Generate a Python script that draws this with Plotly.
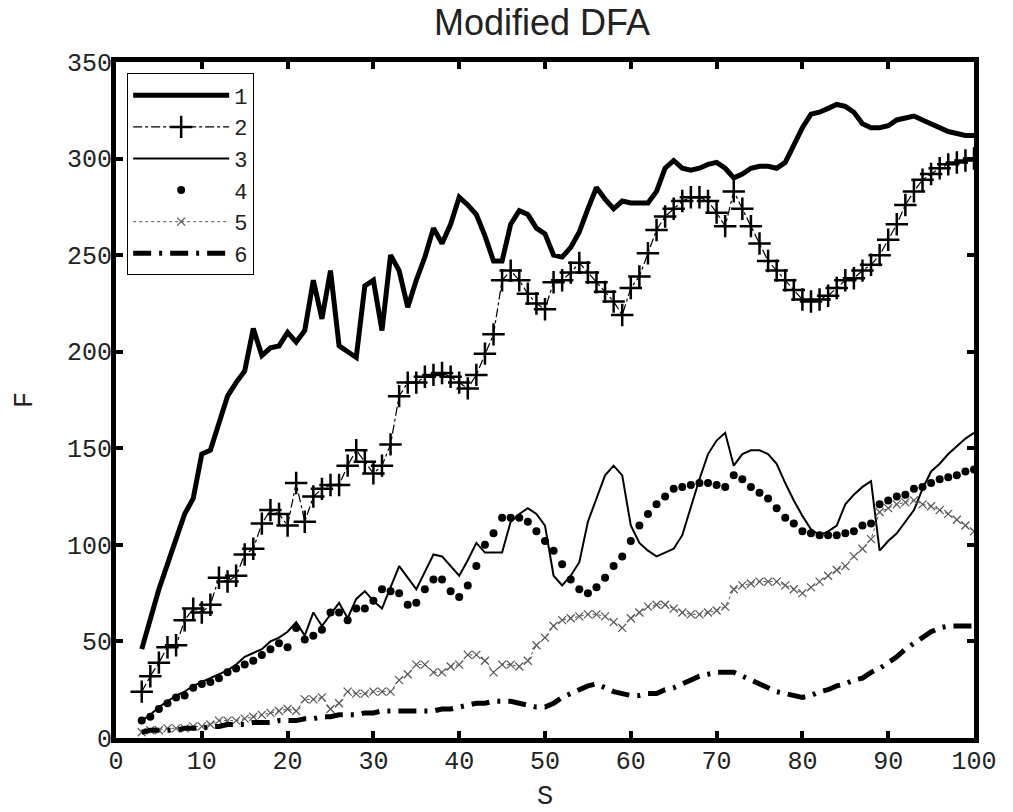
import plotly.graph_objects as go

# scale s (window size) shared by all six curves
s = list(range(3, 101))

f1 = [46, 62, 77, 90, 104, 116, 124, 147, 149, 162,
      177, 184, 190, 212, 198, 202, 203, 210, 205, 211,
      237, 217, 242, 203, 200, 197, 234, 237, 211, 250,
      242, 223, 237, 249, 264, 256, 266, 280, 276, 271,
      260, 247, 247, 266, 273, 271, 264, 261, 250, 249,
      254, 262, 274, 285, 279, 274, 278, 277, 277, 277,
      283, 295, 299, 295, 294, 295, 297, 298, 295, 290,
      292, 295, 296, 296, 295, 298, 307, 316, 323, 324,
      326, 328, 327, 324, 318, 316, 316, 317, 320, 321,
      322, 320, 318, 316, 314, 313, 312, 312]

f2 = [24, 32, 39, 47, 48, 61, 67, 65, 69, 83,
      81, 84, 95, 98, 111, 118, 116, 110, 132, 112,
      125, 129, 131, 131, 141, 149, 143, 137, 141, 152,
      177, 184, 184, 187, 188, 189, 187, 184, 181, 188,
      199, 209, 237, 242, 237, 230, 225, 222, 236, 237,
      241, 246, 241, 236, 231, 226, 219, 233, 239, 251,
      263, 270, 274, 278, 280, 280, 278, 272, 265, 283,
      274, 265, 256, 247, 242, 237, 232, 227, 226, 227,
      229, 233, 237, 238, 242, 245, 250, 258, 266, 276,
      283, 289, 292, 295, 297, 298, 299, 300]

f3 = [9, 12, 16, 19, 22, 24, 27, 29, 31, 33,
      35, 38, 42, 44, 46, 50, 52, 55, 60, 53,
      65, 58, 64, 70, 62, 72, 76, 71, 67, 78,
      89, 83, 77, 86, 95, 94, 89, 84, 92, 101,
      96, 96, 96, 112, 116, 119, 116, 110, 84, 79,
      84, 91, 112, 124, 136, 141, 136, 110, 101, 97,
      94, 96, 98, 105, 120, 134, 147, 154, 158, 141,
      147, 149, 149, 147, 142, 132, 123, 115, 108, 105,
      107, 110, 121, 126, 130, 133, 97, 102, 106, 112,
      118, 129, 138, 142, 147, 151, 155, 158]

f4 = [9, 11, 15, 18, 21, 22, 26, 28, 29, 31,
      34, 36, 38, 40, 43, 46, 49, 47, 57, 51,
      53, 56, 65, 65, 61, 67, 67, 71, 77, 76,
      75, 69, 70, 77, 82, 82, 76, 73, 79, 89,
      100, 106, 114, 114, 114, 112, 107, 102, 97, 90,
      82, 77, 75, 78, 83, 89, 94, 102, 110, 116,
      121, 125, 129, 130, 131, 132, 132, 131, 130, 136,
      134, 130, 127, 124, 119, 114, 111, 107, 106, 105,
      105, 105, 106, 107, 110, 111, 121, 123, 125, 126,
      129, 130, 132, 134, 135, 136, 138, 139]

f5 = [3, 4, 4, 5, 5, 5, 6, 6, 7, 9,
      9, 9, 10, 11, 12, 13, 14, 15, 14, 20,
      20, 21, 15, 18, 24, 23, 23, 24, 24, 24,
      30, 33, 38, 38, 34, 34, 37, 38, 43, 43,
      40, 34, 38, 38, 37, 40, 48, 52, 58, 61,
      62, 63, 64, 64, 63, 60, 57, 62, 65, 68,
      69, 69, 67, 65, 64, 64, 65, 66, 68, 77,
      79, 80, 81, 81, 81, 79, 77, 75, 78, 81,
      84, 87, 89, 94, 98, 103, 117, 119, 121, 122,
      123, 121, 120, 118, 116, 113, 110, 107]

f6 = [3, 4, 4, 4, 4, 5, 5, 5, 6, 6,
      7, 7, 7, 8, 8, 8, 9, 9, 9, 10,
      10, 11, 11, 12, 12, 12, 13, 13, 14, 14,
      14, 14, 14, 14, 14, 15, 15, 16, 17, 18,
      18, 19, 19, 19, 18, 17, 16, 16, 18, 21,
      23, 25, 27, 28, 26, 24, 23, 22, 22, 23,
      23, 25, 26, 28, 30, 32, 33, 34, 34, 34,
      32, 30, 28, 26, 24, 23, 22, 21, 22, 24,
      25, 27, 28, 30, 31, 34, 36, 39, 42, 46,
      49, 52, 55, 57, 58, 58, 58, 58]

labels = ["1", "2", "3", "4", "5", "6"]
x_ticks = list(range(0, 101, 10))
y_ticks = list(range(0, 351, 50))

MONO = "Liberation Mono, Courier New, monospace"
TXT = "#222222"

fig = go.Figure()

fig.add_trace(go.Scatter(
    x=s, y=f1, name=labels[0], mode="lines",
    line=dict(color="black", width=5)))

fig.add_trace(go.Scatter(
    x=s, y=f2, name=labels[1], mode="lines+markers",
    line=dict(color="black", width=1.2, dash="dashdot"),
    marker=dict(symbol="cross-thin", size=16, color="black",
                line=dict(color="black", width=2.5))))

fig.add_trace(go.Scatter(
    x=s, y=f3, name=labels[2], mode="lines",
    line=dict(color="black", width=2)))

fig.add_trace(go.Scatter(
    x=s, y=f4, name=labels[3], mode="markers",
    marker=dict(symbol="circle", size=8, color="black")))

fig.add_trace(go.Scatter(
    x=s, y=f5, name=labels[4], mode="lines+markers",
    line=dict(color="#555555", width=1, dash="dot"),
    marker=dict(symbol="x-thin", size=8, color="#555555",
                line=dict(color="#555555", width=1.2))))

fig.add_trace(go.Scatter(
    x=s, y=f6, name=labels[5], mode="lines",
    line=dict(color="black", width=5, dash="18px,8px,3px,8px")))

axis_common = dict(
    showline=True, linecolor="black", linewidth=5, mirror="ticks",
    ticks="inside", ticklen=7, tickwidth=4, tickcolor="black",
    showgrid=False, zeroline=False, automargin=False,
    tickfont=dict(family=MONO, size=25, color=TXT),
)

fig.update_xaxes(
    range=[0, 100], tickvals=x_ticks, ticklabelstandoff=-4,
    title=dict(text="S", font=dict(family=MONO, size=27, color=TXT),
               standoff=14),
    **axis_common)
fig.update_yaxes(
    range=[0, 350], tickvals=y_ticks, ticklabelstandoff=-6,
    title=dict(text="F", font=dict(family=MONO, size=27, color=TXT),
               standoff=28),
    **axis_common)

fig.update_layout(
    width=1013, height=812,
    margin=dict(l=116, r=39, t=62, b=74),
    paper_bgcolor="white", plot_bgcolor="white",
    title=dict(text="Modified DFA", x=0.535, xanchor="center",
               y=0.972, yanchor="middle", yref="container",
               font=dict(family="Liberation Sans, Arial, sans-serif",
                         size=36, color=TXT)),
    legend=dict(x=0.013, y=0.983, xanchor="left", yanchor="top",
                bgcolor="white", bordercolor="black", borderwidth=1,
                font=dict(family=MONO, size=22, color=TXT),
                itemwidth=96, tracegroupgap=0),
    showlegend=True,
)

fig.write_html("out.html")
